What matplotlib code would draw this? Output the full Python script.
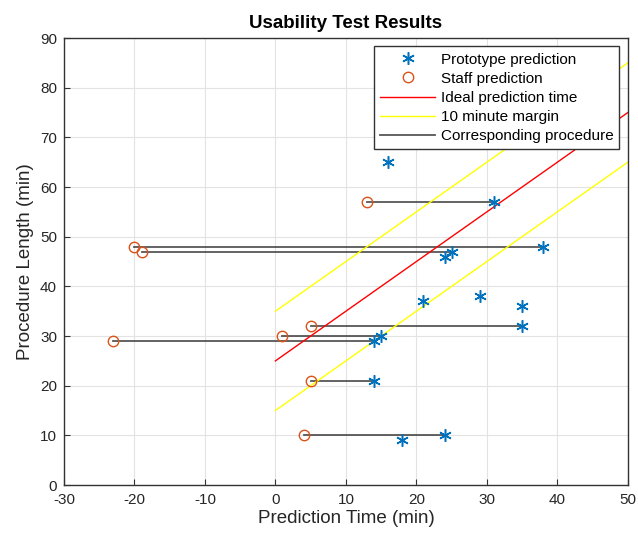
import matplotlib.pyplot as plt

plt.rcParams['font.family'] = ['Liberation Sans', 'DejaVu Sans']
plt.rcParams['axes.unicode_minus'] = False

# prototype predictions (prediction time, procedure length)
proto_x = [16, 31, 38, 25, 24, 21, 29, 35, 35, 15, 14, 14, 18, 24]
proto_y = [65, 57, 48, 47, 46, 37, 38, 36, 32, 30, 29, 21, 9, 10]

# staff predictions
staff_x = [13, -20, -19, 5, 1, -23, 5, 4]
staff_y = [57, 48, 47, 32, 30, 29, 21, 10]

# matching prototype time for each staff prediction
match_x = [31, 38, 25, 35, 15, 14, 14, 24]

ideal_x = [0, 50]
offset = 25
margin = 10

fig = plt.figure(figsize=(6.38, 5.37), dpi=100)
ax = fig.add_axes([0.1003, 0.0968, 0.8837, 0.8323])

for i in range(len(staff_x)):
    ax.plot([staff_x[i], match_x[i]], [staff_y[i], staff_y[i]], color='#3a3a3a', lw=1.3,
            alpha=0.85, label='Corresponding procedure' if i == 0 else None, zorder=2)

ax.plot(proto_x, proto_y, linestyle='none', color='#0072BD', ms=9, mew=1.1, marker=(6, 2, 0),
        label='Prototype prediction', zorder=3)
ax.plot(staff_x, staff_y, 'o', mfc='none', mec='#D95319', ms=7.5, mew=1.0,
        label='Staff prediction', zorder=3)
ax.plot(ideal_x, [x + offset for x in ideal_x], color='red', lw=1, label='Ideal prediction time')
ax.plot(ideal_x, [x + offset + margin for x in ideal_x], color='yellow', lw=1, label='10 minute margin')
ax.plot(ideal_x, [x + offset - margin for x in ideal_x], color='yellow', lw=1)

ax.set_xlim(-30, 50)
ax.set_ylim(0, 90)
ax.set_xticks(range(-30, 51, 10))
ax.set_yticks(range(0, 91, 10))
ax.grid(True, color='#e3e3e3', lw=0.8)
ax.set_axisbelow(True)
ax.tick_params(direction='in', labelsize=11, length=4, top=False, right=False,
               color='#333333', labelcolor='#262626')
ax.tick_params(axis='x', pad=6)
ax.tick_params(axis='y', pad=5)
for s in ax.spines.values():
    s.set_color('#333333')
    s.set_linewidth(1.0)

ax.set_title('Usability Test Results', fontsize=13.5, fontweight='bold', pad=7)
ax.set_xlabel('Prediction Time (min)', fontsize=13.5, labelpad=2, color='#262626')
ax.set_ylabel('Procedure Length (min)', fontsize=13.5, labelpad=4, color='#262626')

handles, labels = ax.get_legend_handles_labels()
order = ['Prototype prediction', 'Staff prediction', 'Ideal prediction time',
         '10 minute margin', 'Corresponding procedure']
hmap = dict(zip(labels, handles))
leg = ax.legend([hmap[k] for k in order], order, loc='upper right', fontsize=11,
                fancybox=False, edgecolor='#333333', framealpha=1, borderpad=0.4,
                labelspacing=0.34, handlelength=3.6, handletextpad=0.35,
                borderaxespad=0.55)
leg.get_frame().set_linewidth(1.0)

fig.savefig('out.png', dpi=100)
